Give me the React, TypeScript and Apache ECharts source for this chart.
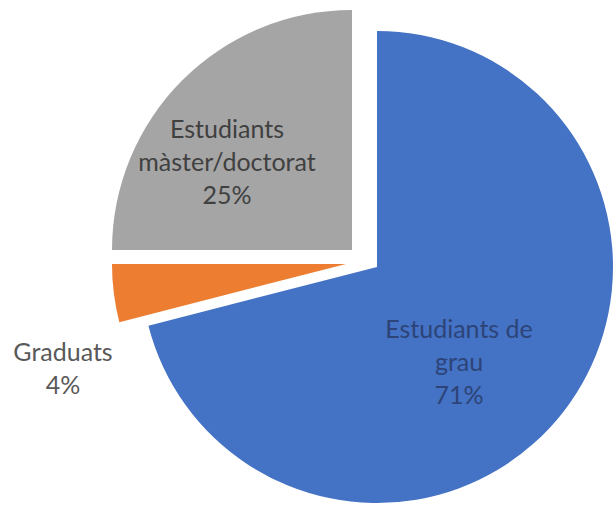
import React, { useEffect, useRef } from 'react';
import * as echarts from 'echarts';

const categories = ['Estudiants de grau', 'Graduats', 'Estudiants màster/doctorat'];
const labelTexts = ['Estudiants de\ngrau', 'Graduats', 'Estudiants\nmàster/doctorat'];
const values = [71, 4, 25];
const colors = ['#4472C4', '#ED7D31', '#A5A5A5'];

export default function App() {
  const ref = useRef<HTMLDivElement>(null);
  useEffect(() => {
    document.body.style.margin = '0';
    const chart = echarts.init(ref.current!, null, { renderer: 'svg' });
    const centers = [[377, 267], [346, 264], [352, 250]];
    const radii = [236, 234, 240];
    const labelPos = [[459, 361], [63, 367], [227, 161]];
    const labelColors = ['#2d4478', '#595959', '#404040'];
    const series = categories.map((_, i) => ({
      type: 'pie',
      center: centers[i],
      radius: radii[i],
      startAngle: 90,
      clockwise: true,
      silent: true,
      avoidLabelOverlap: false,
      label: { show: false },
      labelLine: { show: false },
      emphasis: { disabled: true },
      labelLayout: () => ({ x: labelPos[i][0], y: labelPos[i][1], align: 'center', verticalAlign: 'middle' }),
      data: categories.map((name, j) => ({
        name,
        value: values[j],
        itemStyle: { color: j === i ? colors[j] : 'transparent', borderWidth: 0 },
        label: j === i
          ? {
              show: true,
              position: i === 1 ? 'outside' : 'inside',
              formatter: (p: any) => `${labelTexts[p.dataIndex]}\n${Math.round(p.percent)}%`,
              fontFamily: 'Lato',
              fontSize: 25,
              lineHeight: 33,
              color: labelColors[i],
              align: 'center',
            }
          : { show: false },
        labelLine: { show: false },
      })),
    }));
    chart.setOption({ animation: false, series });
    return () => chart.dispose();
  }, []);
  return <div ref={ref} style={{ width: 615, height: 507 }} />;
}
